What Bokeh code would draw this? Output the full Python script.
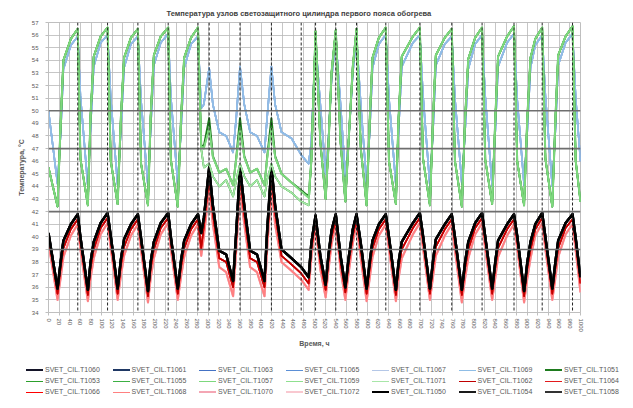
from bokeh.plotting import figure
from bokeh.layouts import column
from bokeh.models import Range1d, FixedTicker, Span, ColumnDataSource, Div
from bokeh.embed import file_html
from bokeh.resources import INLINE

TITLE = "Температура узлов светозащитного цилиндра первого пояса обогрева"
Y_LABEL = "Температура, °С"
X_LABEL = "Время, ч"

x_ticks = [0, 20, 40, 60, 80, 100, 120, 140, 160, 180, 200, 220, 240, 260, 280, 300,
           320, 340, 360, 380, 400, 420, 440, 460, 480, 500, 520, 540, 560, 580, 600,
           620, 640, 660, 680, 700, 720, 740, 760, 780, 800, 820, 840, 860, 880, 900,
           920, 940, 960, 980, 1000]
y_ticks = [34, 35, 36, 37, 38, 39, 40, 41, 42, 43, 44, 45, 46, 47, 48, 49, 50, 51,
           52, 53, 54, 55, 56, 57]

# horizontal limit lines and heating-off marks
limit_levels = [50, 47, 42, 39]
event_hours = [55, 111, 168, 225, 281, 302, 360, 419, 475, 502, 540, 579, 634, 698,
               758, 815, 875, 928, 985]

hours = [0, 17, 23, 28, 42, 55, 60, 74, 79, 85, 98, 111, 117, 130, 136, 142, 155, 168, 174,
         187, 192, 198, 211, 225, 230, 243, 249, 255, 268, 281,
         287, 292, 302, 309, 321, 334, 347, 353, 360, 368, 379, 392, 406, 411, 419, 426,
         438, 457, 475, 489,
         494, 502, 511, 521, 526, 532, 540, 549, 558, 564, 572, 579, 587, 598,
         604, 609, 621, 634, 640, 653, 658, 664, 685, 698, 704, 717, 723, 728, 745, 758,
         764, 777, 783, 789, 802, 815, 821, 834, 840, 845, 862, 875, 881, 894, 900, 906,
         915, 928, 934, 947, 953, 958, 972, 985, 991, 1000]

green = [45.5, 42.4, 49.2, 54.0, 55.7, 56.5, 46.2, 42.5, 49.6, 54.3, 55.9, 56.6, 46.0,
         42.6, 49.4, 54.2, 55.8, 56.5, 45.8, 42.5, 49.5, 54.4, 55.9, 56.6, 46.1,
         42.4, 49.3, 54.2, 55.8, 56.6,
         47.0, 45.5, 45.8, 44.8, 44.0, 44.5, 43.2, 44.5, 45.8, 44.8, 44.0, 44.5, 43.2,
         44.5, 45.8, 44.8, 44.0, 43.5, 42.8, 42.5,
         46.0, 56.3, 47.5, 43.0, 47.0, 53.0, 56.4, 47.5, 42.8, 47.5, 53.5, 56.5, 47.0, 42.5,
         49.5, 54.2, 55.8, 56.6, 46.0, 42.6, 49.4, 54.3, 55.9, 56.6, 46.2, 42.5, 49.6,
         54.4, 55.8, 56.5, 46.0, 42.4, 49.3, 54.1, 55.8, 56.6, 46.1, 42.6, 49.5, 54.3,
         55.9, 56.7, 46.0, 42.5, 49.4, 54.2, 55.7, 56.6, 46.2, 42.4, 49.5, 54.4, 55.9,
         56.7, 46.0, 42.8]

green_up = [45.5, 42.4, 49.2, 54.0, 55.7, 56.5, 46.2, 42.5, 49.6, 54.3, 55.9, 56.6, 46.0,
            42.6, 49.4, 54.2, 55.8, 56.5, 45.8, 42.5, 49.5, 54.4, 55.9, 56.6, 46.1,
            42.4, 49.3, 54.2, 55.8, 56.6,
            47.2, 47.0, 48.6, 46.3, 45.1, 45.4, 44.1, 46.2, 48.6, 46.3, 45.1, 45.4, 44.1,
            46.2, 48.6, 46.3, 45.0, 44.3, 43.6, 43.1,
            46.0, 56.3, 47.5, 43.0, 47.0, 53.0, 56.4, 47.5, 42.8, 47.5, 53.5, 56.5, 47.0, 42.5,
            49.5, 54.2, 55.8, 56.6, 46.0, 42.6, 49.4, 54.3, 55.9, 56.6, 46.2, 42.5, 49.6,
            54.4, 55.8, 56.5, 46.0, 42.4, 49.3, 54.1, 55.8, 56.6, 46.1, 42.6, 49.5, 54.3,
            55.9, 56.7, 46.0, 42.5, 49.4, 54.2, 55.7, 56.6, 46.2, 42.4, 49.5, 54.4, 55.9,
            56.7, 46.0, 42.8]

dark_green = [45.5, 42.4, 49.2, 54.0, 55.7, 56.5, 46.2, 42.5, 49.6, 54.3, 55.9, 56.6, 46.0,
              42.6, 49.4, 54.2, 55.8, 56.5, 45.8, 42.5, 49.5, 54.4, 55.9, 56.6, 46.1,
              42.4, 49.3, 54.2, 55.8, 56.6,
              47.3, 47.2, 49.4, 46.4, 45.1, 45.4, 44.1, 46.3, 49.4, 46.4, 45.1, 45.4, 44.1,
              46.3, 49.4, 46.4, 45.0, 44.3, 43.7, 43.2,
              46.0, 56.3, 47.5, 43.0, 47.0, 53.0, 56.4, 47.5, 42.8, 47.5, 53.5, 56.5, 47.0, 42.5,
              49.5, 54.2, 55.8, 56.6, 46.0, 42.6, 49.4, 54.3, 55.9, 56.6, 46.2, 42.5, 49.6,
              54.4, 55.8, 56.5, 46.0, 42.4, 49.3, 54.1, 55.8, 56.6, 46.1, 42.6, 49.5, 54.3,
              55.9, 56.7, 46.0, 42.5, 49.4, 54.2, 55.7, 56.6, 46.2, 42.4, 49.5, 54.4, 55.9,
              56.7, 46.0, 42.8]

blue = [50.0, 44.2, 48.3, 53.3, 55.2, 55.9, 51.2, 44.0, 48.6, 53.5, 55.4, 56.0, 51.0,
        44.1, 48.4, 53.4, 55.3, 55.9, 50.8, 44.0, 48.5, 53.6, 55.4, 56.1, 51.1,
        44.2, 48.4, 53.4, 55.3, 55.9,
        50.2, 50.5, 53.4, 50.5, 48.3, 48.0, 46.7, 49.5, 53.5, 50.5, 48.3, 48.0, 46.7,
        49.5, 53.5, 50.5, 48.3, 47.8, 46.5, 45.8,
        47.5, 55.5, 50.5, 45.0, 47.5, 52.5, 55.7, 50.5, 44.8, 47.5, 53.0, 55.8, 50.5, 44.2,
        48.5, 53.4, 55.3, 56.0, 51.0, 44.1, 48.4, 53.5, 55.4, 56.0, 51.2, 44.0, 48.6,
        53.6, 55.3, 55.9, 51.0, 44.2, 48.3, 53.3, 55.3, 56.0, 51.1, 44.0, 48.5, 53.5,
        55.4, 56.1, 50.9, 44.1, 48.4, 53.4, 55.2, 56.0, 51.2, 44.0, 48.6, 53.6, 55.4,
        56.1, 51.0, 46.0]

black = [40.3, 35.9, 38.1, 39.7, 41.0, 41.8, 40.0, 35.8, 38.0, 39.6, 41.1, 41.9, 40.1,
         35.9, 38.2, 39.8, 41.0, 41.8, 39.9, 35.7, 38.0, 39.6, 41.1, 41.9, 40.0,
         35.9, 38.1, 39.7, 41.0, 41.8,
         40.3, 41.5, 45.5, 42.5, 38.9, 38.6, 36.5, 40.5, 45.5, 42.5, 38.9, 38.6, 36.5,
         40.5, 45.6, 42.5, 39.0, 38.3, 37.6, 36.8,
         39.5, 41.7, 38.5, 36.2, 38.5, 40.5, 41.8, 38.5, 36.0, 38.3, 40.6, 41.8, 39.5, 35.9,
         38.1, 39.7, 41.0, 41.8, 40.0, 35.8, 38.0, 39.6, 41.1, 41.9, 40.1, 35.9, 38.2,
         39.8, 41.0, 41.8, 40.0, 35.8, 38.0, 39.6, 41.1, 41.9, 40.0, 35.9, 38.1, 39.7,
         41.0, 41.8, 40.1, 35.7, 38.0, 39.6, 41.0, 41.9, 40.0, 35.9, 38.1, 39.7, 41.1,
         41.8, 39.9, 36.8]

red = [40.0, 35.5, 37.6, 39.1, 40.6, 41.4, 39.6, 35.4, 37.5, 39.0, 40.7, 41.5, 39.7,
       35.5, 37.7, 39.2, 40.6, 41.4, 39.5, 35.3, 37.5, 39.0, 40.7, 41.5, 39.6,
       35.5, 37.6, 39.1, 40.6, 41.4,
       39.1, 40.8, 44.8, 41.8, 38.3, 38.0, 36.0, 39.8, 44.8, 41.8, 38.3, 38.0, 36.0,
       39.8, 44.9, 41.9, 38.5, 37.8, 37.1, 36.3,
       39.0, 41.3, 38.0, 35.8, 38.0, 40.0, 41.4, 38.0, 35.6, 37.8, 40.1, 41.4, 39.0, 35.5,
       37.6, 39.1, 40.6, 41.4, 39.6, 35.4, 37.5, 39.0, 40.7, 41.5, 39.7, 35.5, 37.7,
       39.2, 40.6, 41.4, 39.6, 35.4, 37.5, 39.0, 40.7, 41.5, 39.6, 35.5, 37.6, 39.1,
       40.6, 41.4, 39.7, 35.3, 37.5, 39.0, 40.6, 41.5, 39.6, 35.5, 37.6, 39.1, 40.7,
       41.4, 39.5, 36.3]

pink = [39.5, 35.0, 36.8, 38.4, 40.1, 41.0, 39.0, 34.9, 36.7, 38.3, 40.2, 41.1, 39.1,
        35.0, 36.9, 38.5, 40.1, 41.0, 38.9, 34.8, 36.7, 38.3, 40.2, 41.1, 39.0,
        35.0, 36.8, 38.4, 40.1, 41.0,
        38.5, 40.0, 43.8, 41.0, 37.6, 37.2, 35.3, 39.0, 43.8, 41.0, 37.6, 37.2, 35.3,
        39.0, 43.9, 41.0, 38.0, 37.3, 36.6, 35.8,
        38.3, 40.9, 37.4, 35.2, 37.3, 39.4, 41.0, 37.4, 35.0, 37.1, 39.5, 41.0, 38.3, 34.9,
        36.8, 38.4, 40.1, 41.0, 39.0, 34.9, 36.7, 38.3, 40.2, 41.1, 39.1, 35.0, 36.9,
        38.5, 40.1, 41.0, 38.9, 34.8, 36.7, 38.3, 40.2, 41.1, 39.0, 35.0, 36.8, 38.4,
        40.1, 41.0, 39.1, 34.8, 36.7, 38.3, 40.1, 41.1, 39.0, 35.0, 36.8, 38.4, 40.2,
        41.0, 38.9, 35.6]

groups = {"green": green, "green_up": green_up, "dark_green": dark_green, "blue": blue,
          "black": black, "red": red, "pink": pink}

# (legend name, group, colour, width) in legend order (3 rows of 7)
series = [
    ("SVET_CIL.T1060", "black", "#141428", 2.0),
    ("SVET_CIL.T1061", "black", "#1f3864", 2.0),
    ("SVET_CIL.T1063", "blue", "#4472c4", 1.6),
    ("SVET_CIL.T1065", "blue", "#5b8fd6", 1.6),
    ("SVET_CIL.T1067", "blue", "#b4c7e7", 1.6),
    ("SVET_CIL.T1069", "blue", "#8fbde6", 1.6),
    ("SVET_CIL.T1051", "dark_green", "#1e7b1e", 2.0),
    ("SVET_CIL.T1053", "green", "#2ca02c", 1.6),
    ("SVET_CIL.T1055", "green", "#3cb043", 1.6),
    ("SVET_CIL.T1057", "green_up", "#7dd87d", 1.8),
    ("SVET_CIL.T1059", "green_up", "#8fe08f", 1.6),
    ("SVET_CIL.T1071", "green", "#a8e6a8", 1.6),
    ("SVET_CIL.T1062", "red", "#c00000", 1.6),
    ("SVET_CIL.T1064", "red", "#e31a1c", 1.6),
    ("SVET_CIL.T1066", "red", "#ff0000", 1.6),
    ("SVET_CIL.T1068", "pink", "#ff8080", 1.8),
    ("SVET_CIL.T1070", "pink", "#f4a6b4", 2.2),
    ("SVET_CIL.T1072", "pink", "#f9c8d0", 2.2),
    ("SVET_CIL.T1050", "black", "#000000", 2.4),
    ("SVET_CIL.T1054", "black", "#1a1a1a", 2.4),
    ("SVET_CIL.T1058", "black", "#333333", 2.4),
]
draw_order = ["SVET_CIL.T1072", "SVET_CIL.T1070", "SVET_CIL.T1068", "SVET_CIL.T1066",
              "SVET_CIL.T1064", "SVET_CIL.T1062", "SVET_CIL.T1061", "SVET_CIL.T1060",
              "SVET_CIL.T1058", "SVET_CIL.T1054", "SVET_CIL.T1050",
              "SVET_CIL.T1063", "SVET_CIL.T1065", "SVET_CIL.T1067", "SVET_CIL.T1069",
              "SVET_CIL.T1053", "SVET_CIL.T1055", "SVET_CIL.T1071", "SVET_CIL.T1051",
              "SVET_CIL.T1059", "SVET_CIL.T1057"]

FONT = "Liberation Sans"
GRAY = "#595959"

p = figure(width=633, height=350, output_backend="svg", toolbar_location=None,
           x_range=Range1d(0, 1000), y_range=Range1d(34, 57),
           min_border_left=48, min_border_right=53, min_border_top=22,
           min_border_bottom=38, background_fill_color="white",
           border_fill_color="white")
p.outline_line_color = "#bfbfbf"

p.title.text = TITLE
p.title.text_font = FONT
p.title.text_font_size = "7.5px"
p.title.text_font_style = "bold"
p.title.text_color = "#404040"
p.title.align = "left"
p.title.offset = 118

p.xaxis.ticker = FixedTicker(ticks=x_ticks)
p.yaxis.ticker = FixedTicker(ticks=y_ticks)
p.xgrid.ticker = FixedTicker(ticks=x_ticks)
p.ygrid.ticker = FixedTicker(ticks=y_ticks)
p.grid.grid_line_color = "#b8b8b8"
p.grid.grid_line_width = 0.8

for ax in (p.xaxis[0], p.yaxis[0]):
    ax.axis_line_color = "#bfbfbf"
    ax.major_tick_line_color = "#bfbfbf"
    ax.minor_tick_line_color = None
    ax.major_tick_out = 3
    ax.major_tick_in = 0
    ax.major_label_text_font = FONT
    ax.major_label_text_font_size = "6px"
    ax.major_label_text_color = GRAY
    ax.axis_label_text_font = FONT
    ax.axis_label_text_font_size = "7px"
    ax.axis_label_text_font_style = "bold"
    ax.axis_label_text_color = GRAY

p.xaxis.axis_label = X_LABEL
p.yaxis.axis_label = Y_LABEL
p.xaxis.major_label_orientation = "vertical"
p.xaxis.major_label_standoff = 3
p.yaxis.major_label_standoff = 7
p.xaxis.axis_label_standoff = 5
p.yaxis.axis_label_standoff = 4

for lv in limit_levels:
    p.add_layout(Span(location=lv, dimension="width", line_color="#6e6e6e", line_width=1.6))
for ev in event_hours:
    p.add_layout(Span(location=ev, dimension="height", line_color="#262626",
                      line_width=1.0, line_dash="3 2"))

info = {s[0]: s for s in series}
for name in draw_order:
    _, grp, col, wd = info[name]
    src = ColumnDataSource(data=dict(x=hours, y=groups[grp]))
    p.line("x", "y", source=src, line_color=col, line_width=wd, line_join="round")

# legend strip (3 rows x 7 columns) under the chart
cells = []
for i, (name, grp, col, wd) in enumerate(series):
    r, c = divmod(i, 7)
    left = 26 + c * 86.5
    top = 14 + r * 11
    cells.append(
        f'<div style="position:absolute;left:{left}px;top:{top}px;height:11px;'
        f'line-height:11px;white-space:nowrap;">'
        f'<span style="display:inline-block;width:17px;height:0;'
        f'border-top:{max(wd, 1.5)}px solid {col};vertical-align:middle;'
        f'margin-right:2px;"></span>{name}</div>')
legend_html = (f'<div style="position:relative;width:633px;height:58px;'
               f'font-family:\'{FONT}\';font-size:7px;color:{GRAY};">'
               + "".join(cells) + '</div>')
legend_div = Div(text=legend_html, width=633, height=58, margin=0)

layout = column(p, legend_div, spacing=0)
open("out.html", "w").write(file_html(layout, INLINE))
